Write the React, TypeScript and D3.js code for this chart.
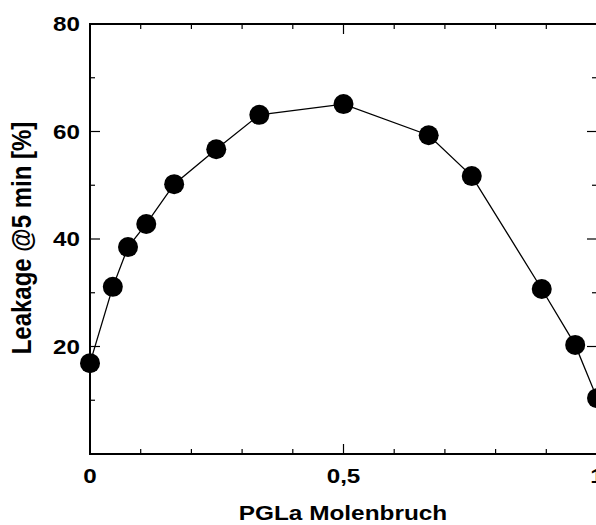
import React, { useEffect, useRef } from "react";
import * as d3 from "d3";

// PGLa mole fraction vs. leakage after 5 min
const molFraction = [0, 0.045, 0.075, 0.111, 0.166, 0.249, 0.334, 0.5, 0.668, 0.753, 0.891, 0.957, 1.0];
const leakage = [16.9, 31.1, 38.5, 42.8, 50.2, 56.7, 63.1, 65.1, 59.3, 51.7, 30.7, 20.3, 10.4];

const xTickLabels = ["0", "0,5", "1"];
const yTickLabels = ["20", "40", "60", "80"];

const W = 596;
const H = 525;

export default function App() {
  const ref = useRef<SVGSVGElement>(null);

  useEffect(() => {
    const margin = { top: 24, right: -1, bottom: 71, left: 90 };
    const svg = d3.select(ref.current);
    svg.selectAll("*").remove();

    const x = d3.scaleLinear().domain([0, 1]).range([margin.left, W - margin.right]);
    const y = d3.scaleLinear().domain([0, 80]).range([H - margin.bottom, margin.top]);

    const font = "'Liberation Sans', Arial, sans-serif";
    const g = svg.append("g");

    // frame
    g.append("rect")
      .attr("x", x(0))
      .attr("y", y(80))
      .attr("width", x(1) - x(0))
      .attr("height", y(0) - y(80))
      .attr("fill", "none")
      .attr("stroke", "#000")
      .attr("stroke-width", 2);

    // x ticks, inward on bottom and top
    const xt = d3.range(0, 11).map(i => i / 10);
    xt.forEach(t => {
      const len = t === 0.5 ? 10 : 5;
      g.append("line")
        .attr("x1", x(t)).attr("x2", x(t))
        .attr("y1", y(0)).attr("y2", y(0) - len)
        .attr("stroke", "#000").attr("stroke-width", 1.2);
      g.append("line")
        .attr("x1", x(t)).attr("x2", x(t))
        .attr("y1", y(80)).attr("y2", y(80) + len)
        .attr("stroke", "#000").attr("stroke-width", 1.2);
    });

    // y ticks, inward on left and right
    const yt = d3.range(10, 80, 10);
    yt.forEach(t => {
      const len = t % 20 === 0 ? 10 : 5;
      g.append("line")
        .attr("x1", x(0)).attr("x2", x(0) + len)
        .attr("y1", y(t)).attr("y2", y(t))
        .attr("stroke", "#000").attr("stroke-width", 1.2);
      g.append("line")
        .attr("x1", x(1)).attr("x2", x(1) - len)
        .attr("y1", y(t)).attr("y2", y(t))
        .attr("stroke", "#000").attr("stroke-width", 1.2);
    });

    // tick labels (the original type is a bit wide, hence scaleX)
    g.selectAll(".xlab")
      .data(xTickLabels)
      .join("text")
      .attr("class", "xlab")
      .attr("transform", (d, i) => `translate(${x(i * 0.5)}, 483) scale(1.18, 1)`)
      .attr("text-anchor", "middle")
      .style("font-family", font)
      .style("font-weight", "bold")
      .style("font-size", "20.5px")
      .text(d => d);

    g.selectAll(".ylab")
      .data(yTickLabels)
      .join("text")
      .attr("class", "ylab")
      .attr("transform", (d, i) => `translate(80, ${y((i + 1) * 20)}) scale(1.18, 1)`)
      .attr("dy", "0.36em")
      .attr("text-anchor", "end")
      .style("font-family", font)
      .style("font-weight", "bold")
      .style("font-size", "20.5px")
      .text(d => d);

    // axis titles
    g.append("text")
      .attr("transform", "translate(343, 520) scale(1.16, 1)")
      .attr("text-anchor", "middle")
      .style("font-family", font)
      .style("font-weight", "bold")
      .style("font-size", "21px")
      .text("PGLa Molenbruch");

    g.append("text")
      .attr("transform", `translate(31, 238) scale(1.12, 1) rotate(-90)`)
      .attr("text-anchor", "middle")
      .style("font-family", font)
      .style("font-weight", "bold")
      .style("font-size", "24px")
      .text("Leakage @5 min [%]");

    // data line + markers
    const data = molFraction.map((m, i) => ({ x: m, y: leakage[i] }));
    const line = d3.line<{ x: number; y: number }>()
      .x(d => x(d.x))
      .y(d => y(d.y));

    g.append("path")
      .datum(data)
      .attr("d", line)
      .attr("fill", "none")
      .attr("stroke", "#000")
      .attr("stroke-width", 1.3);

    g.selectAll(".dot")
      .data(data)
      .join("circle")
      .attr("class", "dot")
      .attr("cx", d => x(d.x))
      .attr("cy", d => y(d.y))
      .attr("r", 10)
      .attr("fill", "#000");
  }, []);

  return (
    <svg
      ref={ref}
      width={W}
      height={H}
      style={{ position: "absolute", left: 0, top: 0, background: "#fff" }}
    />
  );
}
